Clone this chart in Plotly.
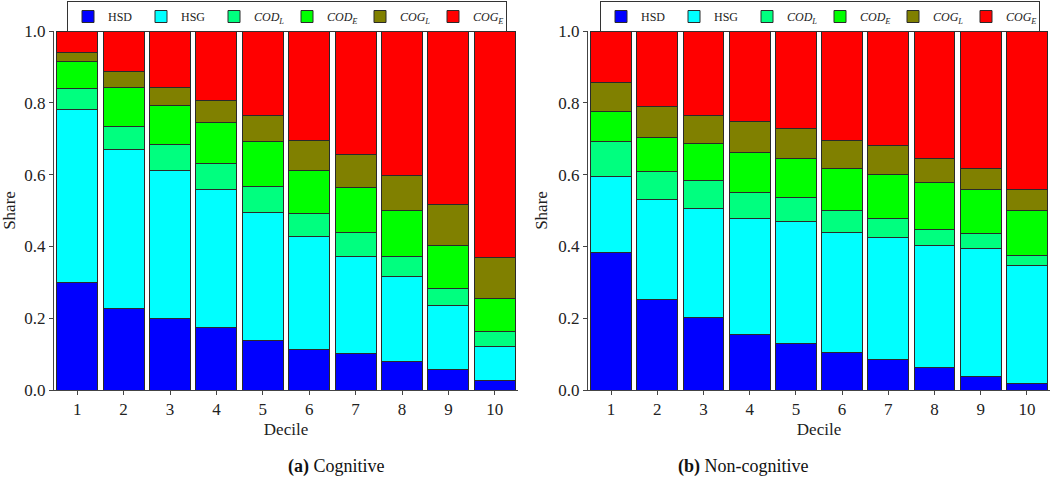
import plotly.graph_objects as go

deciles = [1, 2, 3, 4, 5, 6, 7, 8, 9, 10]
tick_labels = ["1", "2", "3", "4", "5", "6", "7", "8", "9", "10"]
series_names = ["HSD", "HSG", "<i>COD<sub>L</sub></i>", "<i>COD<sub>E</sub></i>",
                "<i>COG<sub>L</sub></i>", "<i>COG<sub>E</sub></i>"]
series_colors = ["#0000FF", "#00FFFF", "#00FF7F", "#00FF00", "#808000", "#FF0000"]

# (a) Cognitive
cog_hsd = [0.300, 0.226, 0.198, 0.175, 0.139, 0.114, 0.101, 0.080, 0.057, 0.027]
cog_hsg = [0.482, 0.444, 0.413, 0.384, 0.355, 0.313, 0.270, 0.236, 0.177, 0.093]
cog_codl = [0.058, 0.065, 0.072, 0.071, 0.072, 0.065, 0.067, 0.056, 0.050, 0.043]
cog_code = [0.076, 0.107, 0.109, 0.114, 0.126, 0.119, 0.127, 0.128, 0.118, 0.091]
cog_cogl = [0.025, 0.045, 0.051, 0.062, 0.072, 0.084, 0.091, 0.097, 0.115, 0.116]
cog_coge = [0.059, 0.113, 0.157, 0.194, 0.236, 0.305, 0.344, 0.403, 0.483, 0.630]

# (b) Non-cognitive
nc_hsd = [0.383, 0.251, 0.201, 0.154, 0.129, 0.104, 0.084, 0.064, 0.038, 0.017]
nc_hsg = [0.213, 0.279, 0.304, 0.325, 0.341, 0.336, 0.341, 0.339, 0.356, 0.330]
nc_codl = [0.096, 0.080, 0.079, 0.070, 0.067, 0.059, 0.053, 0.045, 0.041, 0.029]
nc_code = [0.084, 0.093, 0.103, 0.112, 0.109, 0.119, 0.121, 0.130, 0.123, 0.124]
nc_cogl = [0.081, 0.088, 0.078, 0.086, 0.083, 0.077, 0.081, 0.068, 0.059, 0.058]
nc_coge = [0.143, 0.209, 0.235, 0.253, 0.271, 0.305, 0.320, 0.354, 0.383, 0.442]

cog_series = [cog_hsd, cog_hsg, cog_codl, cog_code, cog_cogl, cog_coge]
nc_series = [nc_hsd, nc_hsg, nc_codl, nc_code, nc_cogl, nc_coge]

FONT = "Liberation Serif"
W, H = 1050, 481

fig = go.Figure()
for name, color, vals in zip(series_names, series_colors, cog_series):
    fig.add_trace(go.Bar(x=deciles, y=vals, name=name, marker_color=color,
                         marker_line=dict(color="#2a2a2a", width=1),
                         xaxis="x", yaxis="y", legend="legend"))
for name, color, vals in zip(series_names, series_colors, nc_series):
    fig.add_trace(go.Bar(x=deciles, y=vals, name=name, marker_color=color,
                         marker_line=dict(color="#2a2a2a", width=1),
                         xaxis="x2", yaxis="y2", legend="legend2"))

ydom = [(H - 390) / H, (H - 31) / H]
xax = dict(range=[0.5, 10.5], tickvals=deciles, ticktext=tick_labels,
           ticks="outside", ticklen=4, tickcolor="#444", showline=True,
           linecolor="#444", linewidth=1, showgrid=False, zeroline=False,
           automargin=False,
           tickfont=dict(family=FONT, size=17, color="#222"),
           title=dict(text="Decile", font=dict(family=FONT, size=17, color="#222"), standoff=4))
yax = dict(range=[0, 1.0], tickvals=[0, 0.2, 0.4, 0.6, 0.8, 1.0],
           ticktext=["0.0", "0.2", "0.4", "0.6", "0.8", "1.0"],
           ticks="outside", ticklen=4, tickcolor="#444", showline=True,
           linecolor="#444", linewidth=1, showgrid=False, zeroline=False,
           automargin=False,
           tickfont=dict(family=FONT, size=17, color="#222"),
           title=dict(text="Share", font=dict(family=FONT, size=17, color="#222"), standoff=6))

leg = dict(orientation="h", yanchor="top", y=1.0 - 1 / H, xanchor="left",
           xref="container", yref="container",
           bordercolor="#333", borderwidth=1, bgcolor="white",
           font=dict(family=FONT, size=12, color="#222"),
           entrywidth=28, entrywidthmode="pixels", itemwidth=30,
           traceorder="normal", tracegroupgap=0)

fig.update_layout(
    width=W, height=H,
    margin=dict(l=0, r=0, t=0, b=0, autoexpand=False),
    plot_bgcolor="white", paper_bgcolor="white",
    barmode="stack", bargap=0.12,
    xaxis=dict(domain=[54 / W, 518 / W], anchor="y", **xax),
    yaxis=dict(domain=ydom, anchor="x", **yax),
    xaxis2=dict(domain=[588 / W, 1050 / W], anchor="y2", **xax),
    yaxis2=dict(domain=ydom, anchor="x2", **yax),
    legend=dict(x=67 / W, **leg),
    legend2=dict(x=600 / W, **leg),
    annotations=[
        dict(text="<b>(a)</b> Cognitive", x=286 / W, y=(H - 466) / H, xref="paper", yref="paper",
             showarrow=False, font=dict(family=FONT, size=18, color="#111"), yanchor="middle"),
        dict(text="<b>(b)</b> Non-cognitive", x=810 / W, y=(H - 466) / H, xref="paper", yref="paper",
             showarrow=False, font=dict(family=FONT, size=18, color="#111"), yanchor="middle"),
    ],
)

fig.write_html("out.html", config={"displayModeBar": False},
               post_script="document.body.style.margin='0';")
